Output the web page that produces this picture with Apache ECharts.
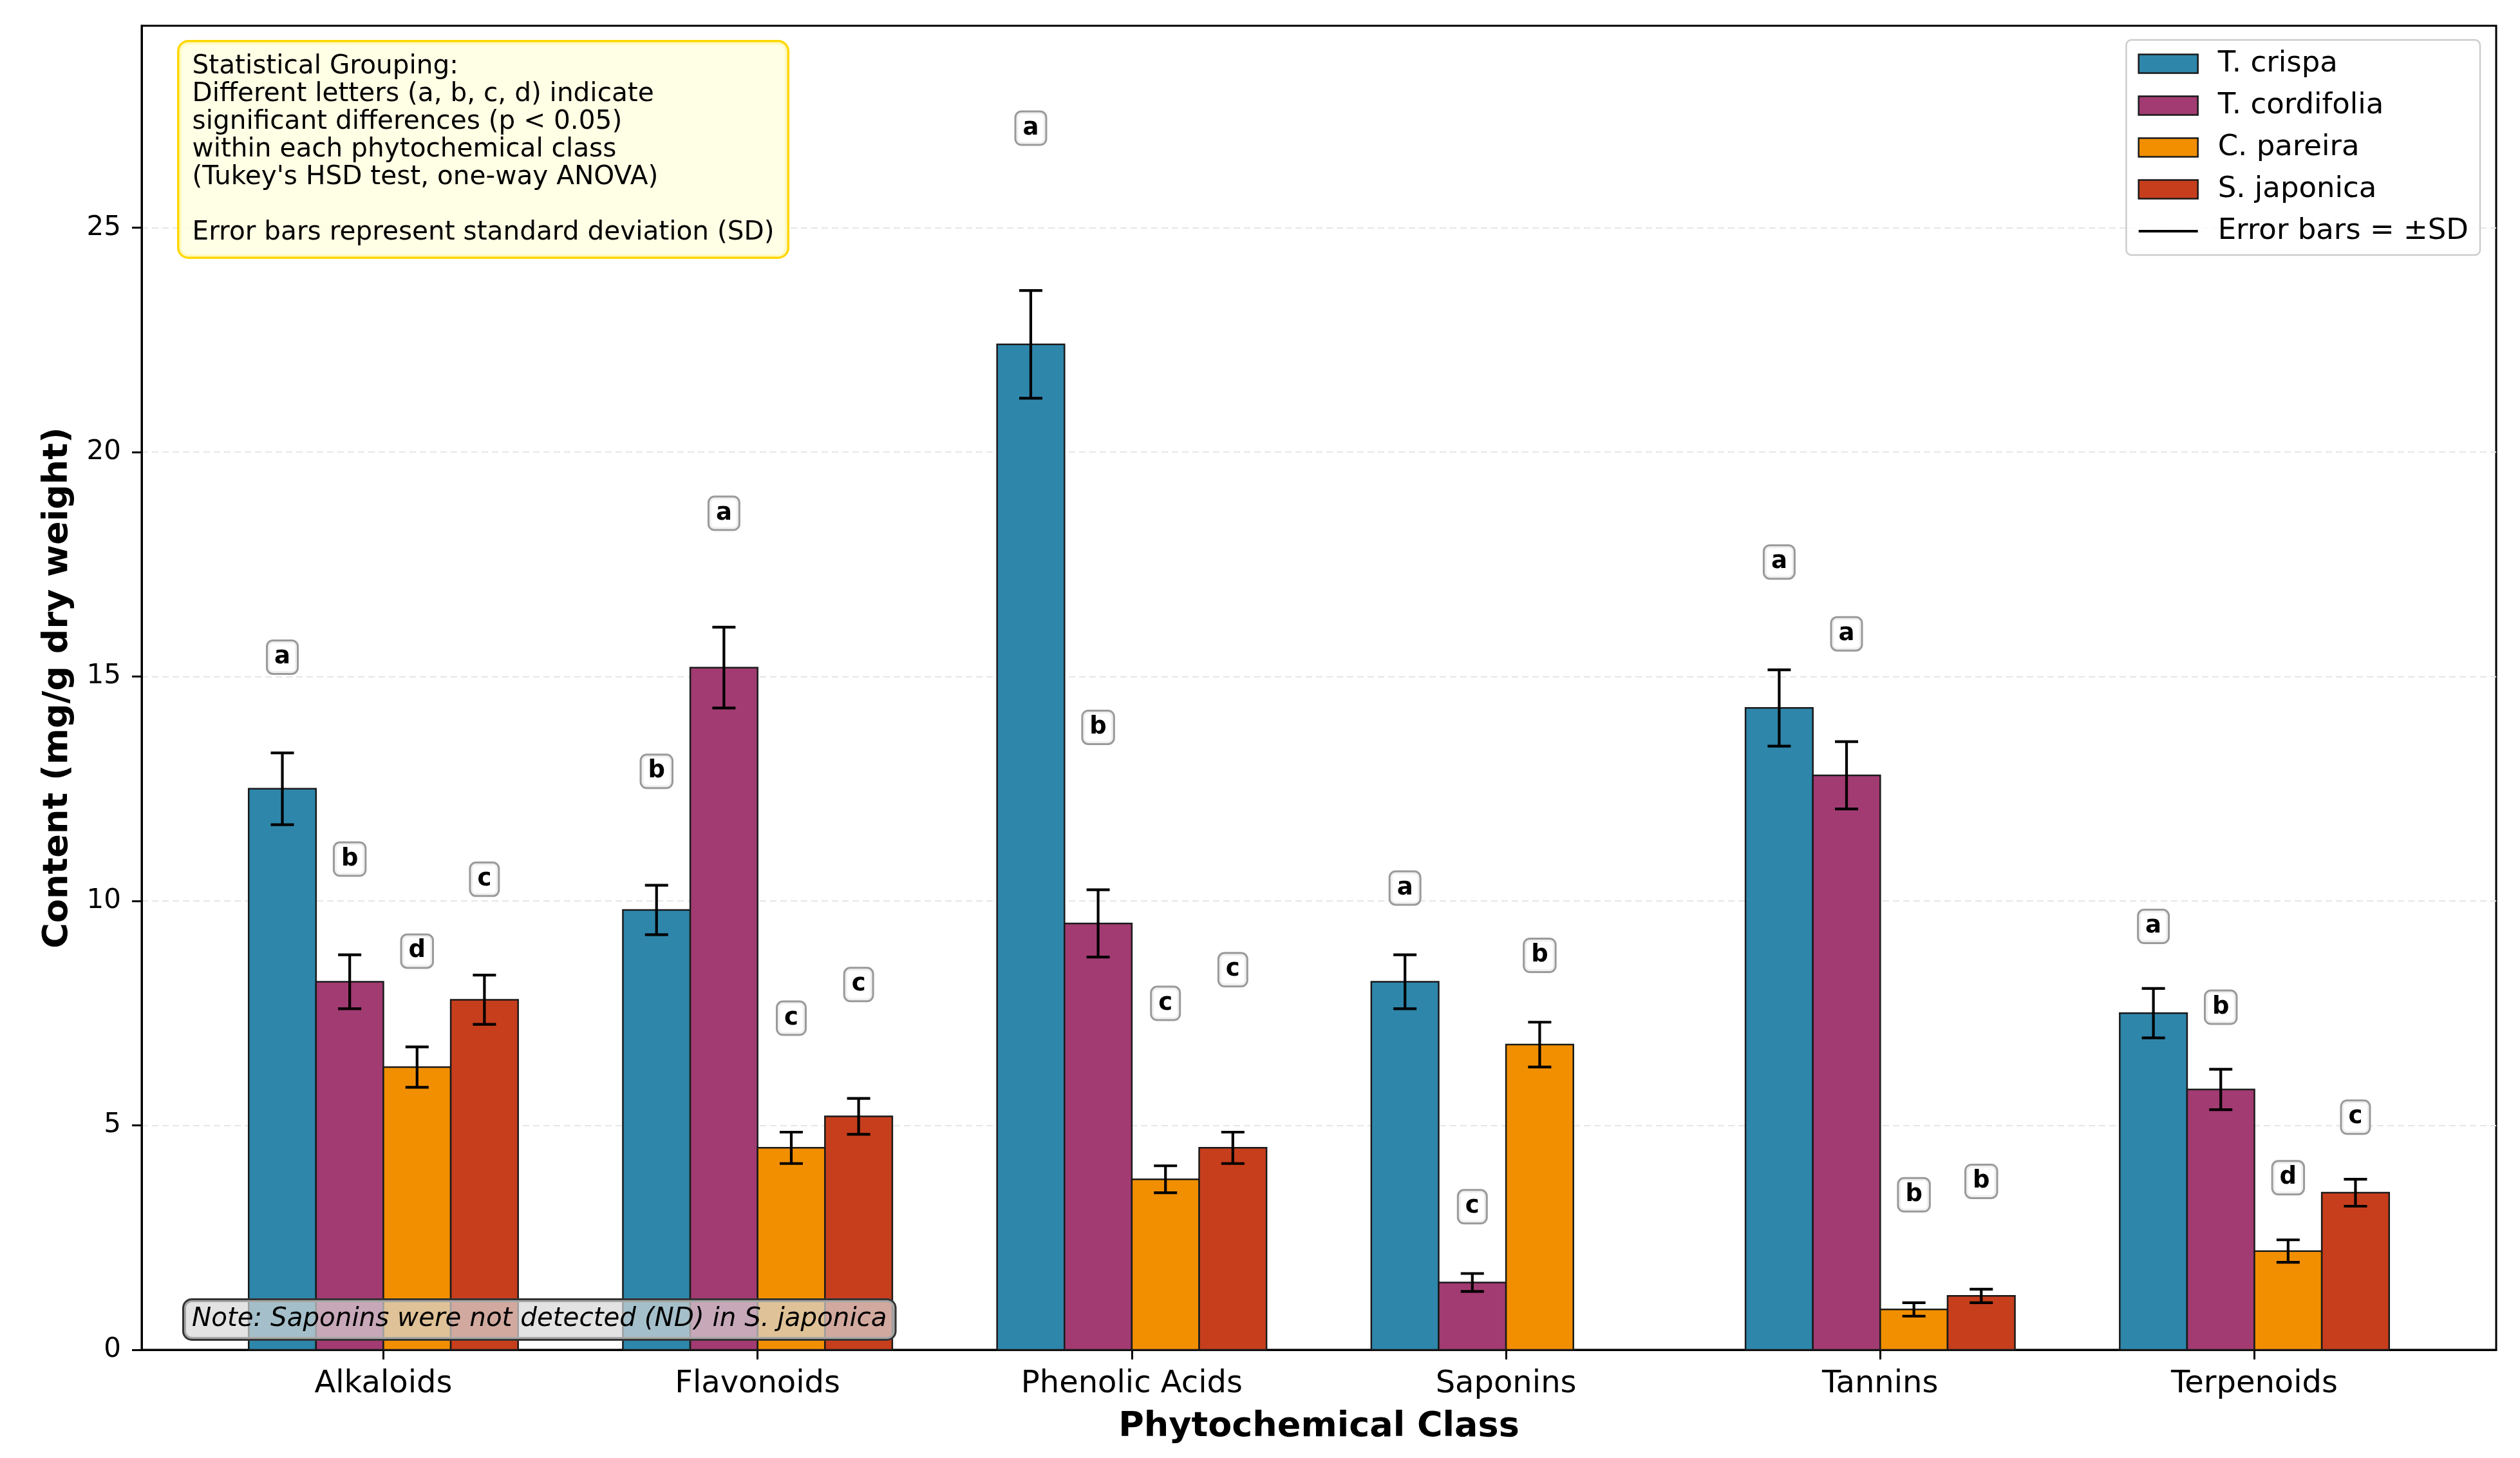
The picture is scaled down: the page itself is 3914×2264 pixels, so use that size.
<!DOCTYPE html>
<html>
<head>
<meta charset="utf-8">
<script src="https://cdn.jsdelivr.net/npm/echarts@6/dist/echarts.min.js"></script>
<style>
html,body{margin:0;padding:0;background:#fff;}
#chart{width:3914px;height:2264px;}
</style>
</head>
<body>
<div id="chart"></div>
<script>
// ---- data ----
const categories = ['Alkaloids', 'Flavonoids', 'Phenolic Acids', 'Saponins', 'Tannins', 'Terpenoids'];
const speciesNames = ['T. crispa', 'T. cordifolia', 'C. pareira', 'S. japonica'];
const tCrispa       = [12.5, 9.8, 22.4, 8.2, 14.3, 7.5];
const tCrispaSD     = [0.8, 0.55, 1.2, 0.6, 0.85, 0.55];
const tCordifolia   = [8.2, 15.2, 9.5, 1.5, 12.8, 5.8];
const tCordifoliaSD = [0.6, 0.9, 0.75, 0.2, 0.75, 0.45];
const cPareira      = [6.3, 4.5, 3.8, 6.8, 0.9, 2.2];
const cPareiraSD    = [0.45, 0.35, 0.3, 0.5, 0.15, 0.25];
const sJaponica     = [7.8, 5.2, 4.5, null, 1.2, 3.5];   // Saponins not detected
const sJaponicaSD   = [0.55, 0.4, 0.35, null, 0.15, 0.3];
const tCrispaLetters     = ['a', 'b', 'a', 'a', 'a', 'a'];
const tCordifoliaLetters = ['b', 'a', 'b', 'c', 'a', 'b'];
const cPareiraLetters    = ['d', 'c', 'c', 'b', 'b', 'd'];
const sJaponicaLetters   = ['c', 'c', 'c', null, 'b', 'c'];
const yTicks = [0, 5, 10, 15, 20, 25];

// ---- styling ----
const FONT = 'DejaVu Sans';
const colors = ['#2E86AB', '#A23B72', '#F18F01', '#C73E1D'];
const means = [tCrispa, tCordifolia, cPareira, sJaponica];
const sds = [tCrispaSD, tCordifoliaSD, cPareiraSD, sJaponicaSD];
const letters = [tCrispaLetters, tCordifoliaLetters, cPareiraLetters, sJaponicaLetters];
const barW = 0.18;
const offsets = [-1.5 * barW, -0.5 * barW, 0.5 * barW, 1.5 * barW];
const groupMax = categories.map((c, i) => Math.max(...means.map(m => m[i] == null ? 0 : m[i])));

function barSeries(si) {
  const data = [];
  categories.forEach((c, i) => {
    if (means[si][i] != null) data.push([i, means[si][i], sds[si][i]]);
  });
  return {
    type: 'custom',
    name: speciesNames[si],
    itemStyle: { color: colors[si] },
    encode: { x: 0, y: 1 },
    z: 2,
    data: data,
    renderItem: function (params, api) {
      const i = api.value(0), v = api.value(1), sd = api.value(2);
      const xc = i + offsets[si];
      const p0 = api.coord([xc - barW / 2, v]);
      const p1 = api.coord([xc + barW / 2, 0]);
      const t = api.coord([xc, v + sd]);
      const b = api.coord([xc, v - sd]);
      const cap = 18;
      const lw = 4.2;
      return {
        type: 'group',
        children: [
          { type: 'rect', shape: { x: p0[0], y: p0[1], width: p1[0] - p0[0], height: p1[1] - p0[1] },
            style: { fill: colors[si], stroke: '#1a1a1a', lineWidth: 2.5 } },
          { type: 'line', shape: { x1: t[0], y1: t[1], x2: b[0], y2: b[1] }, style: { stroke: '#000', lineWidth: lw } },
          { type: 'line', shape: { x1: t[0] - cap, y1: t[1], x2: t[0] + cap, y2: t[1] }, style: { stroke: '#000', lineWidth: lw } },
          { type: 'line', shape: { x1: b[0] - cap, y1: b[1], x2: b[0] + cap, y2: b[1] }, style: { stroke: '#000', lineWidth: lw } }
        ]
      };
    }
  };
}

const labelData = [];
categories.forEach((c, i) => {
  for (let si = 0; si < 4; si++) {
    if (letters[si][i] != null) labelData.push([i, si]);
  }
});

const labelSeries = {
  type: 'custom',
  name: 'letters',
  z: 10,
  encode: { x: 0, y: 1 },
  data: labelData,
  renderItem: function (params, api) {
    const i = api.value(0), si = api.value(1);
    const xc = i + offsets[si];
    const yv = means[si][i] + sds[si][i] + 0.15 * groupMax[i];
    const p = api.coord([xc, yv]);
    return {
      type: 'text',
      x: p[0], y: p[1] - 18,
      style: {
        text: letters[si][i],
        fontFamily: FONT, fontSize: 37, fontWeight: 'bold', fill: '#000',
        align: 'center', verticalAlign: 'middle', lineHeight: 37,
        backgroundColor: 'rgba(255,255,255,0.85)', borderColor: '#9a9a9a', borderWidth: 3,
        borderRadius: 8, padding: [6, 10, 6, 10]
      }
    };
  }
};

const chart = echarts.init(document.getElementById('chart'), null, { renderer: 'canvas' });
const option = {
  backgroundColor: '#ffffff',
  animation: false,
  grid: { left: 220, right: 37, top: 40, bottom: 168, show: true, borderColor: '#000', borderWidth: 3, backgroundColor: 'transparent' },
  xAxis: {
    type: 'value', min: -0.646, max: 5.646,
    name: 'Phytochemical Class', nameLocation: 'middle', nameGap: 93,
    nameTextStyle: { fontFamily: FONT, fontSize: 54, fontWeight: 'bold', color: '#000' },
    axisLine: { show: true, onZero: false, lineStyle: { color: '#000', width: 3 } },
    axisTick: { show: true, length: 15, lineStyle: { color: '#000', width: 3 }, customValues: [0, 1, 2, 3, 4, 5] },
    axisLabel: { show: true, customValues: [0, 1, 2, 3, 4, 5], formatter: v => categories[Math.round(v)],
                 fontFamily: FONT, fontSize: 48, color: '#000', margin: 30 },
    splitLine: { show: false }
  },
  yAxis: {
    type: 'value', min: 0, max: 29.5, interval: 5,
    name: 'Content (mg/g dry weight)', nameLocation: 'middle', nameGap: 103,
    nameTextStyle: { fontFamily: FONT, fontSize: 54, fontWeight: 'bold', color: '#000' },
    axisLine: { show: true, onZero: false, lineStyle: { color: '#000', width: 3 } },
    axisTick: { show: true, length: 15, lineStyle: { color: '#000', width: 3 } },
    axisLabel: { fontFamily: FONT, fontSize: 42, color: '#000', margin: 32, showMaxLabel: false,
                 formatter: v => (yTicks.indexOf(v) >= 0 ? String(v) : '') },
    splitLine: { show: true, showMinLine: false, showMaxLine: false, lineStyle: { color: '#e6e6e6', width: 2, type: [10, 6] } }
  },
  legend: {
    orient: 'vertical', right: 62, top: 62,
    padding: [12, 18, 12, 18],
    itemWidth: 92, itemHeight: 29, itemGap: 15,
    backgroundColor: 'rgba(255,255,255,0.8)', borderColor: '#cccccc', borderWidth: 2.5, borderRadius: 8,
    textStyle: { fontFamily: FONT, fontSize: 45, color: '#000', lineHeight: 50, padding: [0, 0, 0, 26] },
    selectedMode: false,
    data: speciesNames.map((n, si) => ({ name: n, icon: 'rect', itemStyle: { color: colors[si], borderColor: '#1a1a1a', borderWidth: 2.5 } }))
      .concat([{ name: 'Error bars = ±SD', icon: 'path://M0,0h92v4h-92z', itemStyle: { color: '#000', borderWidth: 0 } }])
  },
  graphic: [
    {
      type: 'text', left: 275, top: 62, z: 100,
      style: {
        text: 'Statistical Grouping:\nDifferent letters (a, b, c, d) indicate\nsignificant differences (p < 0.05)\nwithin each phytochemical class\n(Tukey\'s HSD test, one-way ANOVA)\n\nError bars represent standard deviation (SD)',
        fontFamily: FONT, fontSize: 40.6, lineHeight: 43, fill: '#000',
        backgroundColor: 'rgba(255,255,224,0.85)', borderColor: '#FFD700', borderWidth: 3.5, borderRadius: 14,
        padding: [16, 20, 16, 20]
      }
    },
    {
      type: 'text', left: 283, top: 2016, z: 100,
      style: {
        text: 'Note: Saponins were not detected (ND) in S. japonica',
        fontFamily: FONT, fontSize: 40.4, fontStyle: 'italic', lineHeight: 40, fill: '#000',
        backgroundColor: 'rgba(215,215,215,0.7)', borderColor: '#333', borderWidth: 3, borderRadius: 12,
        padding: [10, 12, 10, 12]
      }
    }
  ],
  series: [
    barSeries(0), barSeries(1), barSeries(2), barSeries(3),
    labelSeries,
    { type: 'line', name: 'Error bars = ±SD', data: [], symbol: 'none', lineStyle: { color: '#000', width: 4 }, itemStyle: { color: '#000' } }
  ]
};
chart.setOption(option);
</script>
</body>
</html>
